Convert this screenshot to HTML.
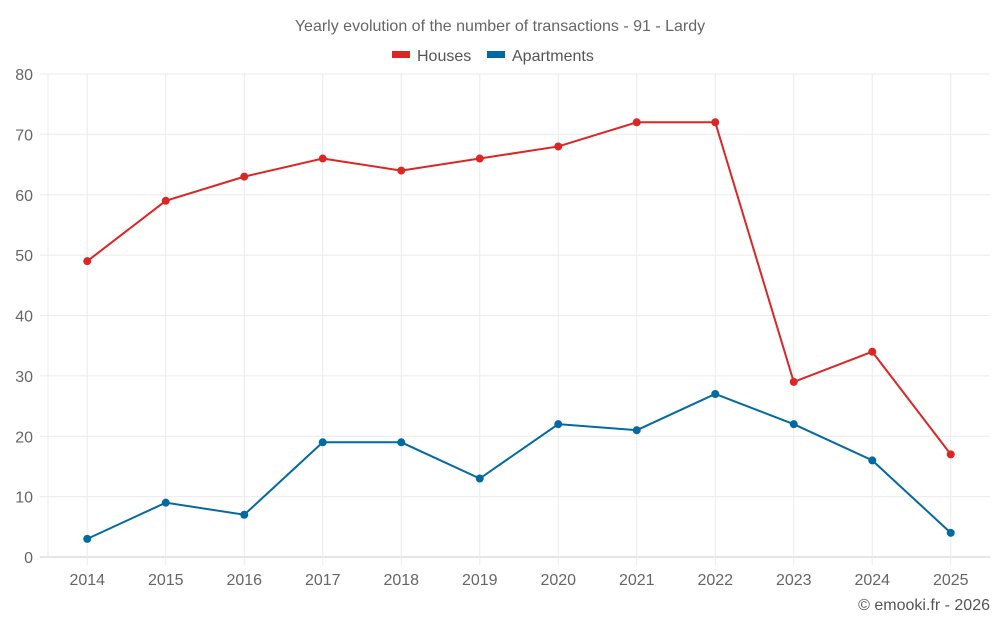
<!DOCTYPE html>
<html><head><meta charset="utf-8"><style>
body{margin:0;background:#fff;font-family:"Liberation Sans",sans-serif;}
svg text{font-family:"Liberation Sans",sans-serif;}
</style></head><body>
<svg id="chart" width="1000" height="625" xmlns="http://www.w3.org/2000/svg">
<text x="500" y="31" text-anchor="middle" font-size="16" fill="#666">Yearly evolution of the number of transactions - 91 - Lardy</text>
<g><rect x="392" y="51" width="18" height="7" fill="#dc2626"/><text x="417" y="61" font-size="16" fill="#555">Houses</text></g>
<g><rect x="487" y="51" width="18" height="7" fill="#0369a1"/><text x="512" y="61" font-size="16" fill="#555">Apartments</text></g>
<g id="grid"></g><g id="axes"></g><g id="series"></g>
<text x="990" y="610" text-anchor="end" font-size="16" fill="#555">© emooki.fr - 2026</text>
</svg>
<script>
const years=[2014,2015,2016,2017,2018,2019,2020,2021,2022,2023,2024,2025];
const houses=[49,59,63,66,64,66,68,72,72,29,34,17];
const apartments=[3,9,7,19,19,13,22,21,27,22,16,4];
const yTicks=[0,10,20,30,40,50,60,70,80];
const NS="http://www.w3.org/2000/svg";
const L=48,R=990,T=74,B=557,yMax=80;
const band=(R-L)/years.length;
const x=i=>L+band*(i+0.5);
const y=v=>B-(v/yMax)*(B-T);
function mk(t,a,p){const e=document.createElementNS(NS,t);for(const k in a)e.setAttribute(k,a[k]);p.appendChild(e);return e;}
const grid=document.getElementById('grid'),axes=document.getElementById('axes'),ser=document.getElementById('series');
yTicks.forEach(v=>{
 const l=mk('line',{x1:40,x2:R,y1:y(v),y2:y(v),stroke:v===0?'#ccc':'#ebebeb'},grid);
 
 
 const t=mk('text',{x:33,y:y(v)+6,'text-anchor':'end','font-size':16,fill:'#666'},axes);t.textContent=v;
 
 
});
const edge=mk('line',{x1:L,x2:L,y1:T,y2:B,stroke:'#ebebeb'},grid);


years.forEach((yr,i)=>{const l=mk('line',{x1:x(i),x2:x(i),y1:T,y2:B+8,stroke:'#ebebeb'},grid);
 
 });
years.forEach((yr,i)=>{const t=mk('text',{x:x(i),y:585,'text-anchor':'middle','font-size':16,fill:'#666'},axes);t.textContent=yr;
 
 });
function draw(vals,color,name){
 const p=mk('polyline',{points:vals.map((v,i)=>x(i)+','+y(v)).join(' '),fill:'none',stroke:color,'stroke-width':2},ser);
 
 
 vals.forEach((v,i)=>{const c=mk('circle',{cx:x(i),cy:y(v),r:4,fill:color},ser);
  
  });
}
draw(houses,'#dc2626','houses');
draw(apartments,'#0369a1','apartments');
</script>
</body></html>
